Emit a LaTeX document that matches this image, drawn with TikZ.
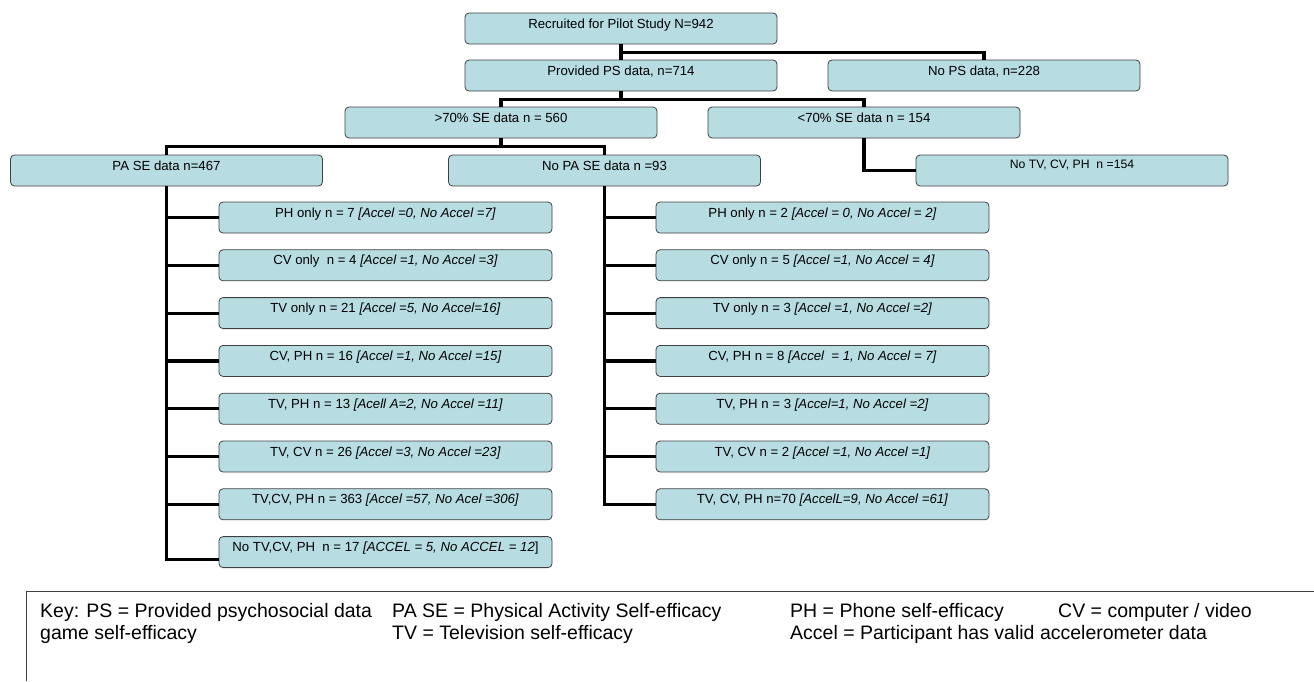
\documentclass[tikz,border=0pt]{standalone}
\usepackage{fontspec}
\setmainfont{Liberation Sans}
\usetikzlibrary{positioning}
\definecolor{boxfill}{RGB}{183,221,227}
\definecolor{boxline}{RGB}{64,64,64}

\begin{document}
\begin{tikzpicture}[
    x=1pt, y=-1pt,
    node distance=16pt,
    stage/.style={draw=boxline, fill=boxfill, line width=0.8pt, rounded corners=4pt, minimum width=312pt, inner xsep=2pt, inner ysep=0pt, text height=15pt, text depth=16pt, font=\fontsize{13.2}{15}\selectfont},
    leaf/.style={stage, minimum width=333pt},
    link/.style={draw, line width=3.2pt},
    keytext/.style={anchor=base west, inner sep=0pt, font=\fontsize{19.5}{21}\selectfont}
]
\useasboundingbox (0,0) rectangle (1314,681);

% Nodes
\node[stage] (recruited) at (621,28.5) {Recruited for Pilot Study N=942};
\node[stage] (provided) at (621,75.5) {Provided PS data, n=714};
\node[stage] (nops) at (984,75.5) {No PS data, n=228};
\node[stage] (over70) at (501,122.5) {>70\% SE data n = 560};
\node[stage] (under70) at (864,122.5) {<70\% SE data n = 154};
\node[stage] (pase) at (166.5,170.5) {PA SE data n=467};
\node[stage] (nopase) at (604.5,170.5) {No PA SE data n =93};
\node[stage, text height=13pt, text depth=18pt, font=\fontsize{12.2}{14}\selectfont] (notv) at (1072,170.5) {No TV, CV, PH~ n =154};

% Left branch
\node[leaf] (ph1) at (385.5,217.5) {PH only n = 7 \textit{[Accel =0, No Accel =7]}};
\node[leaf, below=of ph1] (cv1) {CV only~ n = 4 \textit{[Accel =1, No Accel =3]}};
\node[leaf, below=of cv1] (tv1) {TV only n = 21 \textit{[Accel =5, No Accel=16]}};
\node[leaf, below=of tv1] (cvph1) {CV, PH n = 16 \textit{[Accel =1, No Accel =15]}};
\node[leaf, below=of cvph1] (tvph1) {TV, PH n = 13 \textit{[Acell A=2, No Accel =11]}};
\node[leaf, below=of tvph1] (tvcv1) {TV, CV n = 26 \textit{[Accel =3, No Accel =23]}};
\node[leaf, below=of tvcv1] (all1) {TV,CV, PH n = 363 \textit{[Accel =57, No Acel =306]}};
\node[leaf, below=of all1] (none1) {No TV,CV, PH~ n = 17 \textit{[ACCEL = 5, No ACCEL = 12}]};

% Right branch
\node[leaf] (ph2) at (822.5,217.5) {PH only n = 2 \textit{[Accel = 0, No Accel = 2]}};
\node[leaf, below=of ph2] (cv2) {CV only n = 5 \textit{[Accel =1, No Accel = 4]}};
\node[leaf, below=of cv2] (tv2) {TV only n = 3 \textit{[Accel =1, No Accel =2]}};
\node[leaf, below=of tv2] (cvph2) {CV, PH n = 8 \textit{[Accel~ = 1, No Accel = 7]}};
\node[leaf, below=of cvph2] (tvph2) {TV, PH n = 3 \textit{[Accel=1, No Accel =2]}};
\node[leaf, below=of tvph2] (tvcv2) {TV, CV n = 2 \textit{[Accel =1, No Accel =1]}};
\node[leaf, below=of tvcv2] (all2) {TV, CV, PH n=70 \textit{[AccelL=9, No Accel =61]}};

% Paths
\draw[link] (recruited) -- (provided);
\draw[link] (recruited.south) -- ++(0,8) -| (nops.north);
\draw[link] (provided.south) -- ++(0,8) -| (over70.north);
\draw[link] (provided.south) -- ++(0,8) -| (under70.north);
\draw[link] (over70.south) -- ++(0,8) -| (pase.north);
\draw[link] (over70.south) -- ++(0,8) -| (nopase.north);
\draw[link] (under70.south) |- (notv.west);

\draw[link] (pase.south) |- (ph1.west);
\draw[link] (pase.south) |- (cv1.west);
\draw[link] (pase.south) |- (tv1.west);
\draw[link] (pase.south) |- (cvph1.west);
\draw[link] (pase.south) |- (tvph1.west);
\draw[link] (pase.south) |- (tvcv1.west);
\draw[link] (pase.south) |- (all1.west);
\draw[link] (pase.south) |- ([yshift=-7pt]none1.west);

\draw[link] (nopase.south) |- (ph2.west);
\draw[link] (nopase.south) |- (cv2.west);
\draw[link] (nopase.south) |- (tv2.west);
\draw[link] (nopase.south) |- (cvph2.west);
\draw[link] (nopase.south) |- (tvph2.west);
\draw[link] (nopase.south) |- (tvcv2.west);
\draw[link] (nopase.south) |- (all2.west);

% Key
\draw[boxline, line width=1pt] (1314,591) -- (26,591) -- (26,681);
\node[keytext] (key1) at (40,617) {Key: PS = Provided psychosocial data};
\node[keytext] (key2) at (392,617) {PA SE = Physical Activity Self-efficacy};
\node[keytext] (key3) at (790,617) {PH = Phone self-efficacy};
\node[keytext] (key4) at (1058,617) {CV = computer / video};
\node[keytext] (key5) at (40,639) {game self-efficacy};
\node[keytext] (key6) at (392,639) {TV = Television self-efficacy};
\node[keytext] (key7) at (790,639) {Accel = Participant has valid accelerometer data};

\end{tikzpicture}
\end{document}
